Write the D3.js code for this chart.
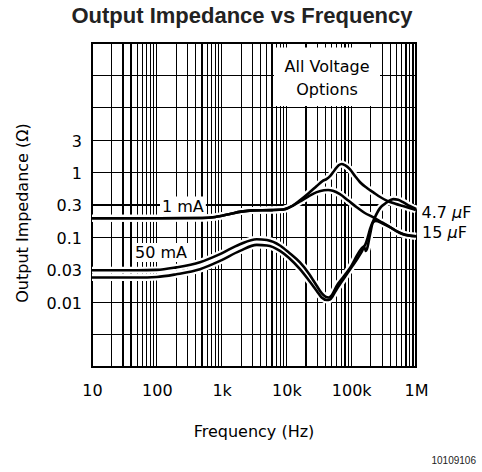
<!DOCTYPE html>
<html>
<head>
<meta charset="utf-8">
<script src="https://cdn.jsdelivr.net/npm/d3@7"></script>
<style>
  body { margin: 0; background: #fff; }
  svg text { font-family: "DejaVu Sans", sans-serif; fill: #000; }
  .title { font-family: "Liberation Sans", Arial, sans-serif; font-weight: bold; font-size: 22px; fill: #222; }
  .fig-id { font-family: "Liberation Sans", Arial, sans-serif; font-size: 10px; fill: #222; }
</style>
</head>
<body>
<svg width="482" height="472"></svg>
<script>
// **** Data ****

var freqTicks = [10, 100, 1e3, 1e4, 1e5, 1e6];
var freqTickLabels = ["10", "100", "1k", "10k", "100k", "1M"];

var zTicks = [3.162, 1, 0.3162, 0.1, 0.03162, 0.01];
var zTickLabels = ["3", "1", "0.3", "0.1", "0.03", "0.01"];

// [frequency (Hz), impedance (ohm)]
var load1mA_4u7 = [
    [10, 0.198], [100, 0.198], [500, 0.199], [800, 0.207], [1300, 0.228], [2000, 0.25],
    [3000, 0.261], [6000, 0.264], [9000, 0.27], [12600, 0.31], [16000, 0.37], [22000, 0.48],
    [29400, 0.62], [36000, 0.74], [42000, 0.8], [48000, 0.9], [55000, 1.08], [64000, 1.3],
    [71000, 1.36], [80000, 1.3], [96000, 1.12], [115000, 0.88], [137000, 0.71], [175000, 0.58],
    [217000, 0.5], [280000, 0.42], [353000, 0.37], [480000, 0.33], [630000, 0.305], [1e6, 0.265]
];

var load1mA_15u = [
    [10, 0.198], [100, 0.198], [500, 0.199], [800, 0.207], [1300, 0.228], [2000, 0.25],
    [3000, 0.261], [6000, 0.264], [9000, 0.27], [12600, 0.31], [16000, 0.355], [22000, 0.43],
    [29400, 0.5], [38000, 0.535], [44000, 0.54], [52000, 0.525], [67000, 0.465], [90000, 0.37],
    [121600, 0.292], [160000, 0.24], [217000, 0.205], [300000, 0.17], [397000, 0.144],
    [500000, 0.125], [630000, 0.112], [1e6, 0.104]
];

var load50mA_4u7 = [
    [10, 0.0312], [50, 0.0312], [100, 0.0315], [200, 0.0345], [464, 0.0414], [944, 0.0551],
    [1920, 0.0786], [3480, 0.0938], [5000, 0.091], [7960, 0.075], [11000, 0.058], [16200, 0.041],
    [22000, 0.028], [29400, 0.0179], [35000, 0.0138], [40000, 0.0122], [45000, 0.0118],
    [50000, 0.0128], [59700, 0.0179], [72000, 0.023], [85300, 0.0287], [100000, 0.036],
    [121600, 0.052], [145000, 0.068], [163400, 0.076], [180000, 0.1], [195000, 0.134],
    [230000, 0.2], [278000, 0.283], [353000, 0.346], [446000, 0.39], [530000, 0.38],
    [630000, 0.35], [800000, 0.305], [1e6, 0.275]
];

var load50mA_15u = [
    [10, 0.024], [50, 0.024], [100, 0.0245], [200, 0.027], [464, 0.0323], [944, 0.0434],
    [1920, 0.0619], [3480, 0.0766], [5000, 0.075], [7960, 0.062], [11000, 0.048], [16200, 0.0323],
    [22000, 0.022], [29400, 0.0149], [35000, 0.0118], [42000, 0.0108], [47000, 0.011],
    [52000, 0.0125], [60000, 0.016], [72000, 0.021], [85300, 0.027], [100000, 0.034],
    [121600, 0.045], [145000, 0.06], [160000, 0.07], [168000, 0.062], [175000, 0.066],
    [195000, 0.11], [217000, 0.17], [240000, 0.18], [300000, 0.165], [397000, 0.144],
    [500000, 0.125], [630000, 0.113], [1e6, 0.104]
];

var curves = [load1mA_4u7, load1mA_15u, load50mA_4u7, load50mA_15u];

// **** Scales ****

var svg = d3.select('svg');

svg.append("rect")
    .attr("width", 482)
    .attr("height", 472)
    .attr("fill", "#fff");

var xScale = d3.scaleLog()
    .domain([10, 1e6])
    .range([92, 416]);

var yScale = d3.scaleLog()
    .domain([0.001, 100])
    .range([367, 43]);

// **** Grid ****

var vGrid = [];
freqTicks.slice(0, -1).forEach(d => {
    for (var m = 2; m <= 9; m++) vGrid.push(d * m);
});
freqTicks.forEach(d => vGrid.push(d));

var hGrid = d3.range(-6, 5).map(k => Math.pow(10, k / 2));

var grid = svg.append("g")
    .attr("class", "grid")
    .attr("shape-rendering", "crispEdges");

grid.selectAll("line.v")
    .data(vGrid)
    .enter()
    .append("line")
    .attr("class", "v")
    .attr("x1", d => xScale(d))
    .attr("x2", d => xScale(d))
    .attr("y1", yScale.range()[0])
    .attr("y2", yScale.range()[1])
    .attr("stroke", "#000")
    .attr("stroke-width", 1.2);

grid.selectAll("line.h")
    .data(hGrid)
    .enter()
    .append("line")
    .attr("class", "h")
    .attr("x1", xScale.range()[0])
    .attr("x2", xScale.range()[1])
    .attr("y1", d => yScale(d))
    .attr("y2", d => yScale(d))
    .attr("stroke", "#000")
    .attr("stroke-width", 1.2);

// frame
svg.append("rect")
    .attr("x", 92)
    .attr("y", 43)
    .attr("width", 324)
    .attr("height", 324)
    .attr("fill", "none")
    .attr("stroke", "#000")
    .attr("stroke-width", 2)
    .attr("shape-rendering", "crispEdges");

// **** Axes (labels only) ****

var xAxis = d3.axisBottom(xScale)
    .tickValues(freqTicks)
    .tickFormat((d, i) => freqTickLabels[i])
    .tickSize(0);

var gx = svg.append("g")
    .attr("transform", "translate(0,367)")
    .call(xAxis);
gx.select(".domain").remove();
gx.selectAll("text")
    .attr("y", 29)
    .attr("dy", null)
    .attr("font-family", "DejaVu Sans")
    .attr("font-size", 16)
    .attr("fill", "#000");

var yAxis = d3.axisLeft(yScale)
    .tickValues(zTicks)
    .tickFormat((d, i) => zTickLabels[i])
    .tickSize(0);

var gy = svg.append("g")
    .attr("transform", "translate(92,0)")
    .call(yAxis);
gy.select(".domain").remove();
gy.selectAll("text")
    .attr("x", -10)
    .attr("dy", "0.37em")
    .attr("font-family", "DejaVu Sans")
    .attr("font-size", 16)
    .attr("fill", "#000");

// **** Curves ****

var line = d3.line()
    .x(d => xScale(d[0]))
    .y(d => yScale(d[1]))
    .curve(d3.curveMonotoneX);

svg.selectAll("path.casing")
    .data(curves)
    .enter()
    .append("path")
    .attr("class", "casing")
    .attr("d", line)
    .attr("fill", "none")
    .attr("stroke", "#fff")
    .attr("stroke-width", 7);

svg.selectAll("path.curve")
    .data(curves)
    .enter()
    .append("path")
    .attr("class", "curve")
    .attr("d", line)
    .attr("fill", "none")
    .attr("stroke", "#000")
    .attr("stroke-width", 2.6)
    .attr("stroke-linejoin", "round");

// **** Annotations ****

function boxedText(x, y, lines, anchor, pad, box) {
    var g = svg.append("g");
    var bg = g.append("rect").attr("fill", "#fff");
    var t = g.append("text")
        .attr("font-size", 16)
        .attr("text-anchor", anchor);
    lines.forEach((s, i) => {
        t.append("tspan").attr("x", x).attr("y", y + i * 23.5).text(s);
    });
    var b = t.node().getBBox();
    if (box) {
        bg.attr("x", box[0]).attr("y", box[1]).attr("width", box[2]).attr("height", box[3]);
    } else {
        bg.attr("x", b.x - pad).attr("y", b.y).attr("width", b.width + 2 * pad).attr("height", b.height);
    }
}

boxedText(162, 211.5, ["1 mA"], "start", 2);
boxedText(135, 258, ["50 mA"], "start", 2);
boxedText(327, 71.5, ["All Voltage", "Options"], "middle", 0, [274, 47.5, 106, 58.5]);

svg.append("text")
    .attr("x", 421.5)
    .attr("y", 218)
    .attr("font-size", 16)
    .call(t => {
        t.append("tspan").text("4.7 ");
        t.append("tspan").attr("font-style", "italic").text("\u00b5");
        t.append("tspan").text("F");
    });

svg.append("text")
    .attr("x", 422)
    .attr("y", 237.5)
    .attr("font-size", 16)
    .call(t => {
        t.append("tspan").text("15 ");
        t.append("tspan").attr("font-style", "italic").text("\u00b5");
        t.append("tspan").text("F");
    });

// axis titles
svg.append("text")
    .attr("x", 254)
    .attr("y", 436.5)
    .attr("font-size", 16)
    .attr("text-anchor", "middle")
    .text("Frequency (Hz)");

svg.append("text")
    .attr("transform", "translate(28,213) rotate(-90)")
    .attr("font-size", 16)
    .attr("text-anchor", "middle")
    .text("Output Impedance (\u03a9)");

// title
svg.append("text")
    .attr("class", "title")
    .attr("x", 242)
    .attr("y", 23)
    .attr("text-anchor", "middle")
    .text("Output Impedance vs Frequency");

svg.append("text")
    .attr("class", "fig-id")
    .attr("x", 476)
    .attr("y", 464)
    .attr("text-anchor", "end")
    .text("10109106");
</script>
</body>
</html>
